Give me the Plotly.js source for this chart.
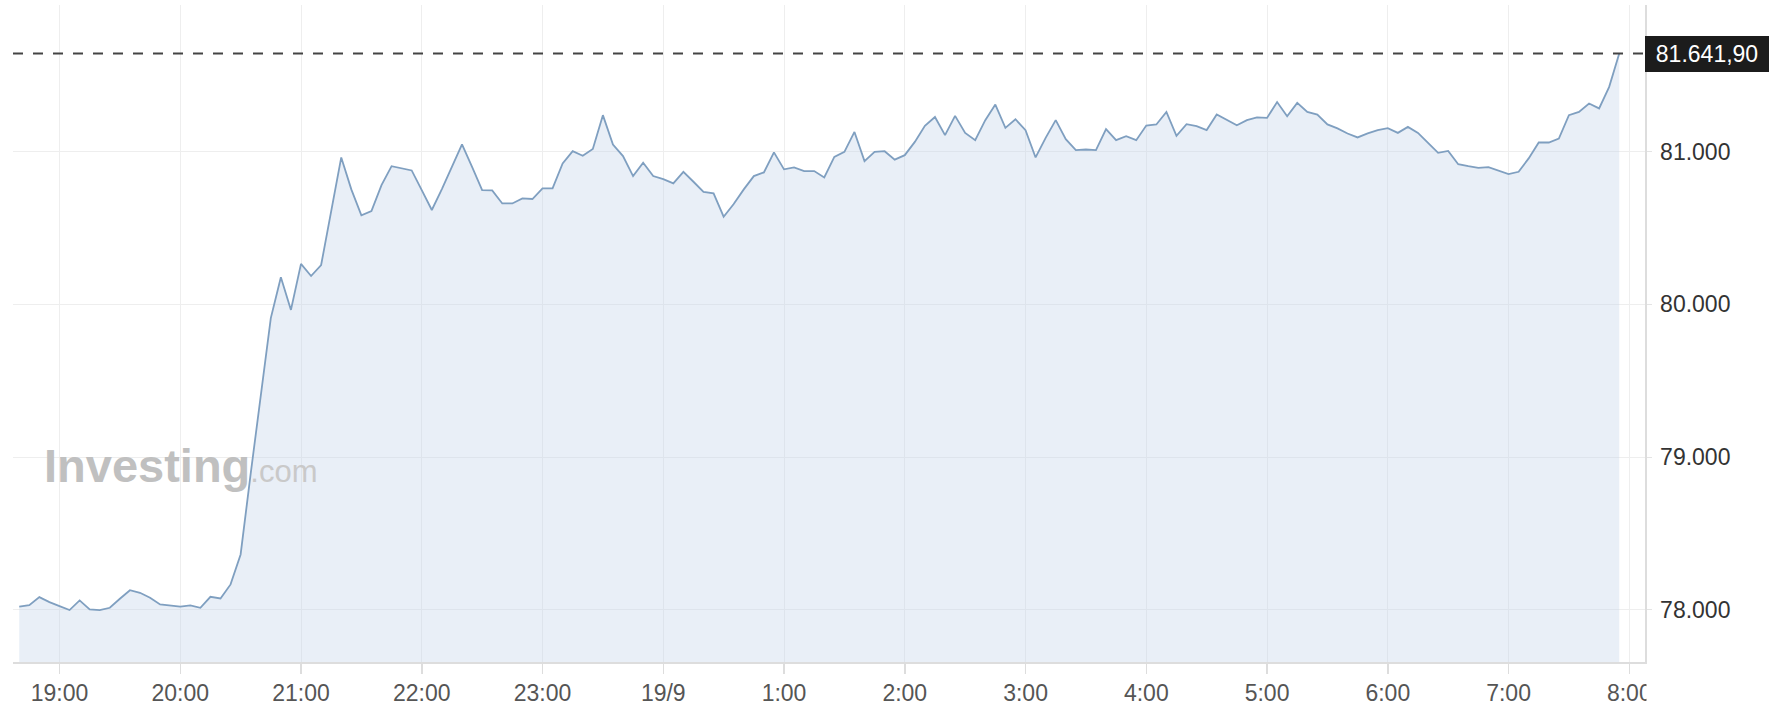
<!DOCTYPE html>
<html>
<head>
<meta charset="utf-8">
<script src="https://cdn.plot.ly/plotly-3.0.1.min.js"></script>
<style>
html,body{margin:0;padding:0;background:#ffffff;}
#chart{width:1784px;height:716px;}
</style>
</head>
<body>
<div id="chart"></div>
<script>
// ---- data (5-minute closes) ----
const times = [
  "18:40","18:45","18:50","18:55",
  "19:00","19:05","19:10","19:15","19:20","19:25","19:30","19:35","19:40","19:45","19:50","19:55",
  "20:00","20:05","20:10","20:15","20:20","20:25","20:30","20:35","20:40","20:45","20:50","20:55",
  "21:00","21:05","21:10","21:15","21:20","21:25","21:30","21:35","21:40","21:45","21:50","21:55",
  "22:00","22:05","22:10","22:15","22:20","22:25","22:30","22:35","22:40","22:45","22:50","22:55",
  "23:00","23:05","23:10","23:15","23:20","23:25","23:30","23:35","23:40","23:45","23:50","23:55",
  "00:00","00:05","00:10","00:15","00:20","00:25","00:30","00:35","00:40","00:45","00:50","00:55",
  "01:00","01:05","01:10","01:15","01:20","01:25","01:30","01:35","01:40","01:45","01:50","01:55",
  "02:00","02:05","02:10","02:15","02:20","02:25","02:30","02:35","02:40","02:45","02:50","02:55",
  "03:00","03:05","03:10","03:15","03:20","03:25","03:30","03:35","03:40","03:45","03:50","03:55",
  "04:00","04:05","04:10","04:15","04:20","04:25","04:30","04:35","04:40","04:45","04:50","04:55",
  "05:00","05:05","05:10","05:15","05:20","05:25","05:30","05:35","05:40","05:45","05:50","05:55",
  "06:00","06:05","06:10","06:15","06:20","06:25","06:30","06:35","06:40","06:45","06:50","06:55",
  "07:00","07:05","07:10","07:15","07:20","07:25","07:30","07:35","07:40","07:45","07:50","07:55"
];

const values = [
  78021,78031,78084,78051,78025,77999,78062,78003,77999,78014,
  78073,78129,78112,78080,78036,78029,78021,78029,78014,78086,
  78075,78167,78363,78892,79397,79910,80178,79964,80265,80186,
  80258,80600,80962,80753,80583,80611,80781,80905,80892,80877,
  80748,80618,80755,80901,81047,80901,80748,80746,80661,80661,
  80694,80690,80759,80759,80923,81003,80973,81018,81239,81047,
  80971,80840,80927,80840,80820,80792,80868,80803,80737,80727,
  80574,80657,80753,80840,80864,80995,80884,80897,80873,80873,
  80831,80966,80999,81129,80938,80999,81003,80948,80977,81064,
  81169,81227,81108,81234,81123,81075,81206,81308,81156,81212,
  81141,80962,81090,81206,81082,81010,81014,81010,81147,81075,
  81101,81075,81171,81178,81260,81103,81180,81167,81141,81243,
  81210,81173,81206,81224,81221,81325,81232,81319,81260,81243,
  81178,81152,81119,81093,81119,81141,81154,81123,81162,81123,
  81058,80992,81005,80918,80905,80894,80899,80876,80853,80868,
  80956,81060,81060,81086,81239,81260,81315,81283,81424,81641.90
];

const tickTimes  = ["19:00","20:00","21:00","22:00","23:00","00:00","01:00","02:00","03:00","04:00","05:00","06:00","07:00","08:00"];
const tickLabels = ["19:00","20:00","21:00","22:00","23:00","19/9","1:00","2:00","3:00","4:00","5:00","6:00","7:00","8:00"];
const yTickVals  = [78000, 79000, 80000, 81000];

// ---- helpers ----
function toDate(t){
  const h = parseInt(t.slice(0,2), 10);
  return (h >= 12 ? "2024-09-18 " : "2024-09-19 ") + t;
}
function fmtPrice(v){
  const parts = v.toFixed(2).split(".");
  const intPart = parts[0].replace(/\B(?=(\d{3})+(?!\d))/g, ".");
  return intPart + "," + parts[1];
}

const W = 1784, H = 716;
const M = {l: 13, r: 139, t: 5, b: 54};
const plotW = W - M.l - M.r;
const plotH = H - M.t - M.b;
const lastVal = values[values.length - 1];
const FONT = '"Liberation Sans", Arial, Helvetica, sans-serif';

const trace = {
  type: "scatter",
  mode: "lines",
  x: times.map(toDate),
  y: values,
  line: {color: "#7f9fc0", width: 1.8},
  fill: "tozeroy",
  fillcolor: "rgba(196,212,234,0.38)",
  hoverinfo: "skip"
};

const layout = {
  width: W, height: H,
  margin: {l: M.l, r: M.r, t: M.t, b: M.b, pad: 0},
  paper_bgcolor: "#ffffff",
  plot_bgcolor: "#ffffff",
  separators: ",.",
  showlegend: false,
  font: {family: FONT, size: 23, color: "#333333"},
  xaxis: {
    type: "date",
    range: ["2024-09-18 18:36:54", "2024-09-19 08:07:48"],
    tickmode: "array",
    tickvals: tickTimes.map(toDate),
    ticktext: tickLabels,
    showgrid: true, gridcolor: "#eeeeee", gridwidth: 1,
    showline: true, linecolor: "#dddddd", linewidth: 1.5,
    ticks: "outside", ticklen: 10, tickcolor: "#dddddd", tickwidth: 1.5,
    tickfont: {family: FONT, size: 23, color: "#555555"},
    zeroline: false, fixedrange: true
  },
  yaxis: {
    side: "right",
    range: [77659, 81960],
    tickmode: "array",
    tickvals: yTickVals,
    tickformat: ",d",
    showgrid: true, gridcolor: "#eeeeee", gridwidth: 1,
    showline: true, linecolor: "#dddddd", linewidth: 1.5,
    ticks: "outside", ticklen: 5, tickcolor: "#e4e4e4", tickwidth: 1,
    ticklabelstandoff: 4,
    tickfont: {family: FONT, size: 23, color: "#333333"},
    zeroline: false, fixedrange: true
  },
  shapes: [
    {
      type: "line", xref: "paper", x0: 0, x1: 1,
      yref: "y", y0: lastVal, y1: lastVal,
      line: {color: "#444444", width: 2, dash: "10px,10px"},
      layer: "above"
    },
    {
      // hides the part of the last time label that runs past the plot edge
      type: "rect", xref: "paper", x0: 1 + 1.5 / plotW, x1: 1 + 60 / plotW,
      yref: "paper", y0: -60 / plotH, y1: -12 / plotH,
      fillcolor: "#ffffff", line: {width: 0}, layer: "above"
    }
  ],
  annotations: [
    {
      xref: "paper", x: 1, xanchor: "left",
      yref: "y", y: lastVal, yanchor: "middle",
      text: fmtPrice(lastVal),
      showarrow: false,
      font: {family: FONT, size: 23, color: "#ffffff"},
      bgcolor: "#1c1c1c",
      borderpad: 0, borderwidth: 0,
      width: 124, height: 36, align: "center", valign: "middle"
    },
    {
      xref: "paper", x: (42 - M.l) / plotW, xanchor: "left",
      yref: "paper", y: (H - M.b - 465) / plotH, yanchor: "middle",
      text: "<b>Investing</b><span style=\"font-size:31px;color:#c9c9c9\">.com</span>",
      showarrow: false,
      font: {family: FONT, size: 47, color: "#c0c0c0"}
    }
  ]
};

Plotly.newPlot("chart", [trace], layout, {displayModeBar: false, staticPlot: true});
</script>
</body>
</html>
